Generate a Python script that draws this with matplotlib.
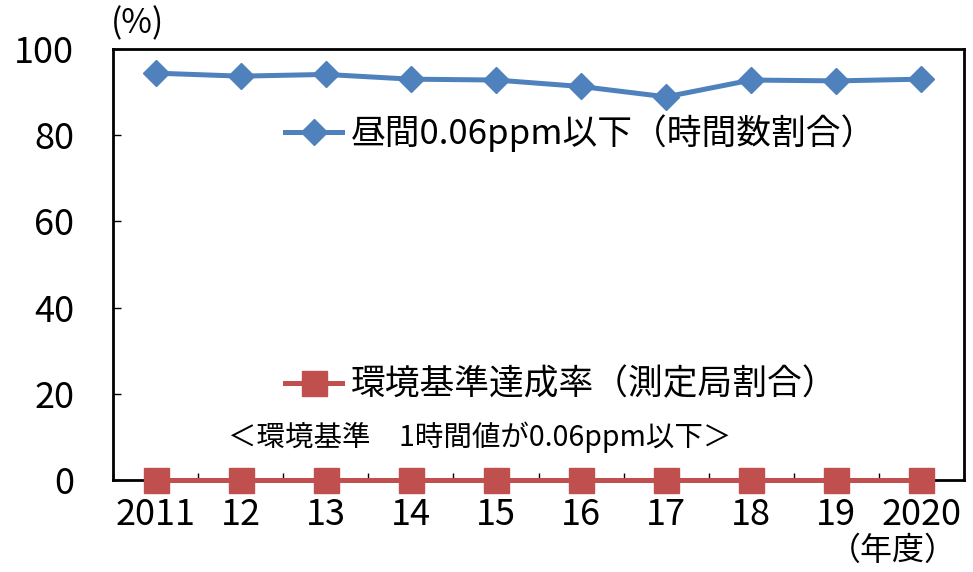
import matplotlib
matplotlib.use("Agg")
from matplotlib import pyplot as plt
import numpy as np

plt.rcParams['font.family'] = ['Noto Sans CJK JP', 'DejaVu Sans']

# data
years = ['2011', '12', '13', '14', '15', '16', '17', '18', '19', '2020']
daytime_share = [94.4, 93.7, 94.1, 93.0, 92.8, 91.3, 88.9, 92.8, 92.6, 93.0]
standard_rate = [0, 0, 0, 0, 0, 0, 0, 0, 0, 0]
yticks = [0, 20, 40, 60, 80, 100]

label_day = '昼間0.06ppm以下（時間数割合）'
label_std = '環境基準達成率（測定局割合）'
note = '＜環境基準\u30001時間値が0.06ppm以下＞'

blue = '#4F81BD'
red = '#C0504D'

fig = plt.figure(figsize=(9.73, 5.72), dpi=100)
ax = fig.add_axes([113/973, 1-480/572, (964-113)/973, (480-49)/572])

x = np.arange(len(years))
l1, = ax.plot(x, daytime_share, color=blue, lw=3.6, marker='D', ms=13,
              mec=blue, mfc=blue, zorder=3, clip_on=False)
l2, = ax.plot(x, standard_rate, color=red, lw=3.6, marker='s', ms=18,
              mec=red, mfc=red, zorder=3, clip_on=False)

ax.set_xlim(-0.5, len(years) - 0.5)
ax.set_ylim(0, 100)
ax.set_yticks(yticks)
ax.set_xticks(x)
ax.set_xticklabels(years)
ax.set_xticks(np.arange(len(years) + 1) - 0.5, minor=True)

ax.tick_params(axis='y', direction='in', length=6, width=1, labelsize=26, pad=28)
ax.tick_params(axis='x', which='major', length=0, labelsize=26, pad=12)
ax.tick_params(axis='x', which='minor', direction='in', length=5, width=1)

for s in ax.spines.values():
    s.set_linewidth(2)
    s.set_color('black')

leg1 = ax.legend(handles=[l1], labels=[label_day], loc='center left',
                 bbox_to_anchor=(0.202, 0.805), frameon=False, fontsize=25,
                 borderpad=0, borderaxespad=0, handlelength=1.65, handletextpad=0.25)
ax.add_artist(leg1)
ax.legend(handles=[l2], labels=[label_std], loc='center left',
          bbox_to_anchor=(0.202, 0.220), frameon=False, fontsize=25,
          borderpad=0, borderaxespad=0, handlelength=1.65, handletextpad=0.25)

ax.text(0.135, 0.10, note, transform=ax.transAxes, fontsize=20.5,
        ha='left', va='center')

fig.text(137/973, 1-24/572, '(%)', fontsize=24, ha='center', va='center')
fig.text(893/973, 1-551/572, '（年度）', fontsize=23, ha='center', va='center')

fig.savefig('out.png', dpi=100)
